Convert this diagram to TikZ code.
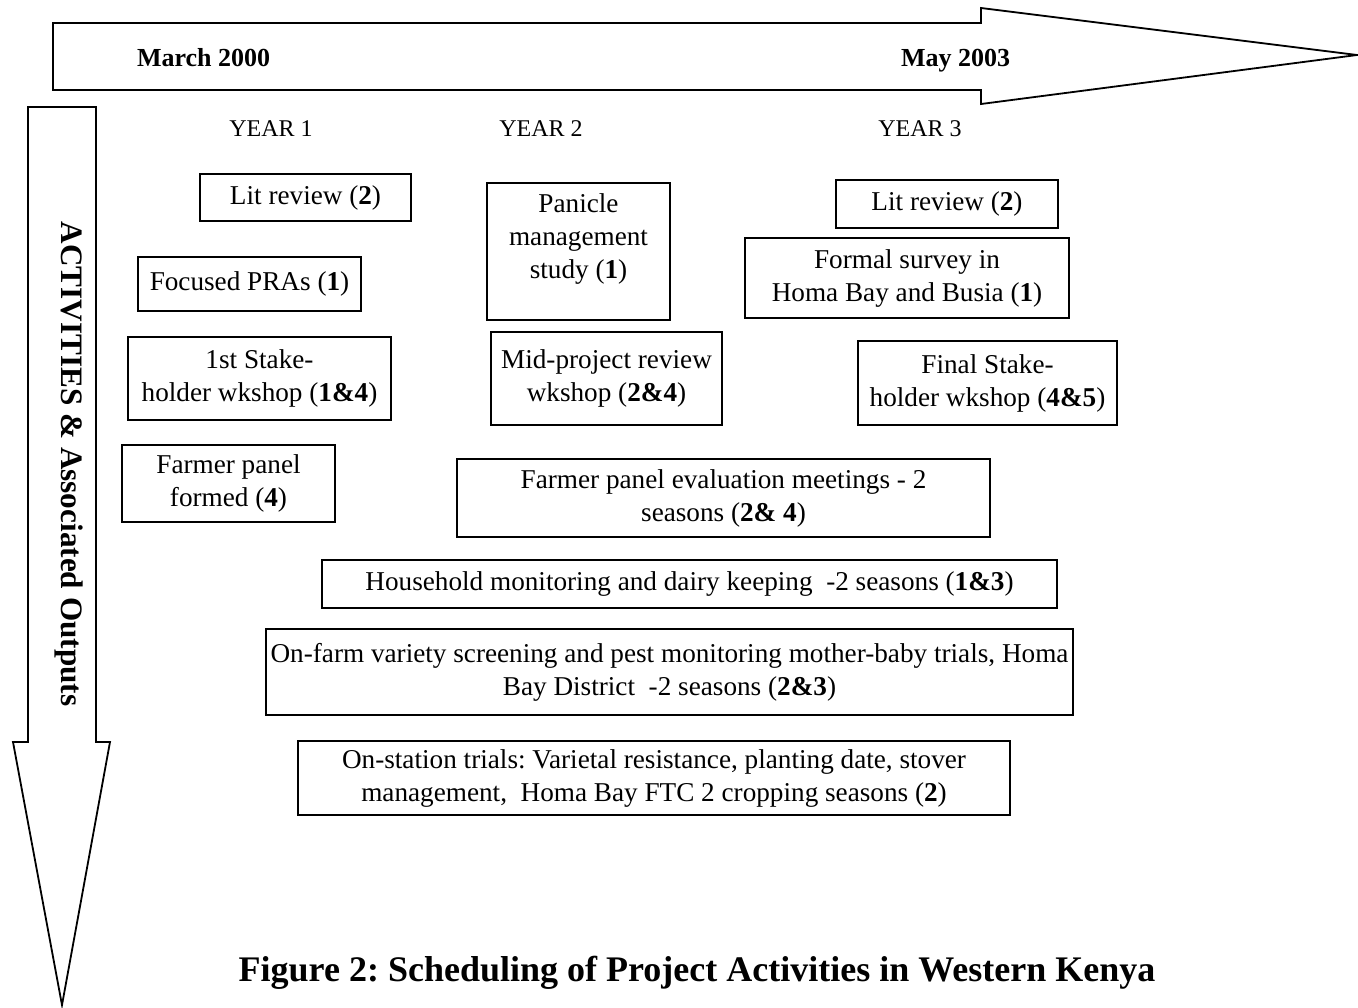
\documentclass[tikz,border=0pt]{standalone}
\usepackage{fontspec}
\setmainfont{Liberation Serif}
\usepackage{tikz}
\usetikzlibrary{positioning}
\frenchspacing
\tikzset{
every picture/.style={line join=miter},
actbox/.style={rectangle, draw=black, line width=1.1pt, align=center, inner sep=0pt, font=\fontsize{13.6}{16.5}\selectfont},
datelabel/.style={font=\fontsize{13}{15}\selectfont\bfseries},
yearlabel/.style={font=\fontsize{12}{14}\selectfont},
bigarrow/.style={draw=black, line width=0.9pt, fill=white}
}

\begin{document}
\begin{tikzpicture}[x=0.5pt, y=-0.5pt]
\useasboundingbox (0,0) rectangle (1358,1007);
%Arrows
\draw[bigarrow] (53,23) -- (981,23) -- (981,8) -- (1357,55) -- (981,104) -- (981,90) -- (53,90) -- cycle;
\draw[bigarrow] (28,107) -- (96,107) -- (96,742) -- (110,742) -- (62,1005) -- (13,742) -- (28,742) -- cycle;

%Nodes
\node (start) [datelabel, anchor=base west] at (130,66) {March 2000};
\node (finish) [datelabel, anchor=base west] at (894,66) {May 2003};
\node (axis) [rotate=-90, font=\fontsize{15.6}{18}\selectfont\bfseries] at (69,464) {ACTIVITIES \& Associated Outputs};

\node (yearA) [yearlabel] at (271,129) {YEAR 1};
\node (yearB) [yearlabel] at (541,129) {YEAR 2};
\node (yearC) [yearlabel] at (920,129) {YEAR 3};

\node (litA) [actbox, minimum width=105.5pt, minimum height=23.5pt] at (305.5,197.5) {Lit review (\textbf{2})};
\node (pra) [actbox, minimum width=111.5pt, minimum height=27pt] at (249.5,284) {Focused PRAs (\textbf{1})};
\node (stakeA) [actbox, minimum width=131.5pt, minimum height=41.5pt] at (259.5,378.5) {1st Stake-\\holder wkshop (\textbf{1\&4})};
\node (panel) [actbox, minimum width=106.5pt, minimum height=38.5pt] at (228.5,483.5) {Farmer panel\\formed (\textbf{4})};

\node (panicle) [actbox, minimum width=91.5pt, minimum height=68.5pt, text depth=15pt] at (578.5,251.5) {Panicle\\management\\study (\textbf{1})};
\node (midrev) [actbox, minimum width=115.5pt, minimum height=46.5pt] at (606.5,378.5) {Mid-project review\\wkshop (\textbf{2\&4})};

\node (litB) [actbox, minimum width=111pt, minimum height=24pt] at (947,204) {Lit review (\textbf{2})};
\node (survey) [actbox, minimum width=162pt, minimum height=40pt] at (907,278) {Formal survey in\\Homa Bay and Busia (\textbf{1})};
\node (stakeB) [actbox, minimum width=129.5pt, minimum height=42pt] at (987.5,383) {Final Stake-\\holder wkshop (\textbf{4\&5})};

\node (evalmeet) [actbox, minimum width=266.5pt, minimum height=39pt] at (723.5,498) {Farmer panel evaluation meetings - 2\\seasons (\textbf{2\& 4})};
\node (household) [actbox, minimum width=367.5pt, minimum height=24pt] at (689.5,584) {Household monitoring and dairy keeping \ -2 seasons (\textbf{1\&3})};
\node (onfarm) [actbox, minimum width=403.5pt, minimum height=43pt] at (669.5,672) {On-farm variety screening and pest monitoring mother-baby trials, Homa\\Bay District \ -2 seasons (\textbf{2\&3})};
\node (onstation) [actbox, minimum width=356pt, minimum height=37pt] at (654,778) {On-station trials: Varietal resistance, planting date, stover\\management, \ Homa Bay FTC 2 cropping seasons (\textbf{2})};

\node (caption) [font=\fontsize{18}{21}\selectfont\bfseries] at (697,973) {Figure 2: Scheduling of Project Activities in Western Kenya};
\end{tikzpicture}
\end{document}
